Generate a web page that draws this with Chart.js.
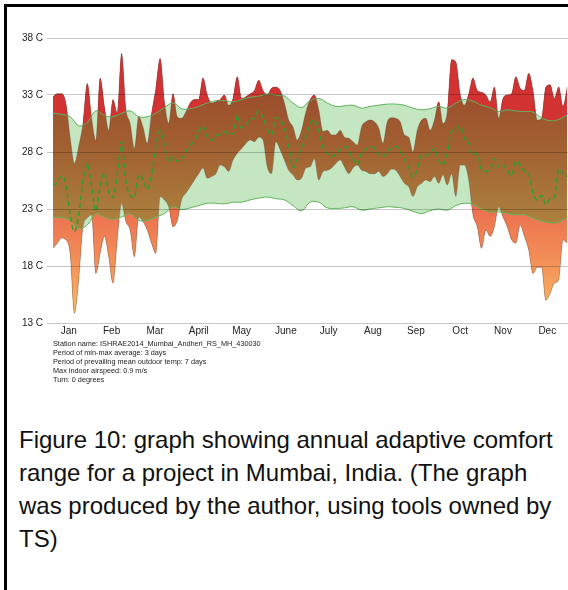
<!DOCTYPE html>
<html>
<head>
<meta charset="utf-8">
<script src="https://cdn.jsdelivr.net/npm/chart.js@4.4.1/dist/chart.umd.min.js"></script>
<style>
  html, body { margin: 0; padding: 0; background: #fff; }
  body { width: 568px; height: 590px; position: relative; overflow: hidden; font-family: "Liberation Sans", Arial, sans-serif; }
  #frame { position: absolute; left: 4px; top: 4px; right: -10px; bottom: -10px; border-left: 3px solid #000; border-top: 3px solid #000; z-index: 2; }
  #chart { position: absolute; left: 0; top: 0; }
  .info { position: absolute; left: 53px; top: 339px; font-size: 7.3px; line-height: 9px; color: #222; }
  .caption { position: absolute; left: 19px; top: 423px; width: 540px; font-size: 24px; line-height: 33px; color: #111; }
</style>
</head>
<body>
<div id="frame"></div>
<canvas id="chart" width="568" height="340"></canvas>
<div class="info">
  Station name: ISHRAE2014_Mumbai_Andheri_RS_MH_430030<br>
  Period of min-max average: 3 days<br>
  Period of prevailing mean outdoor temp: 7 days<br>
  Max indoor airspeed: 0.9 m/s<br>
  Turn: 0 degrees
</div>
<div class="caption">Figure 10: graph showing annual adaptive comfort range for a project in Mumbai, India. (The graph was produced by the author, using tools owned by TS)</div>
<script>
const months = ["Jan", "Feb", "Mar", "April", "May", "June", "July", "Aug", "Sep", "Oct", "Nov", "Dec"];
const monthDays = [11, 41, 71.5, 102, 132, 163, 193, 224, 254, 285, 315, 346];
const yTicks = [13, 18, 23, 28, 33, 38];

// outdoor temps, one value every 3 days
const tempStep = 3;
const tempMax = [
  32.85, 33.1, 33.1, 32.3, 29.3, 27.0, 28.5, 30.5, 34.0, 31.0, 29.0, 34.5, 32.0, 29.9, 32.6, 31.4, 36.65, 31.8, 30.5, 28.3, 31.1, 30.2, 28.75, 31.4, 33.6, 36.2, 32.4, 30.5, 33.1, 31.1,
  30.95, 31.5, 32.3, 32.6, 32.6, 34.5, 33.0, 32.3, 32.4, 32.6, 33.0, 32.1, 32.7, 34.6, 32.7, 32.85, 33.1, 33.4, 34.3, 33.4, 33.0, 33.6, 33.7, 33.4, 32.3, 30.8, 30.2, 29.05, 29.9, 31.5,
  32.6, 33.0, 31.7, 29.8, 29.9, 29.5, 29.5, 29.9, 29.3, 29.2, 28.9, 28.6, 30.2, 30.65, 30.8, 30.65, 30.1, 28.75, 30.65, 31.0, 30.95, 30.65, 29.5, 29.3, 28.0, 29.9, 30.8, 30.95, 29.9, 30.8,
  32.4, 30.5, 31.5, 36.1, 35.9, 33.1, 32.1, 33.1, 34.5, 33.4, 33.25, 33.0, 32.4, 33.7, 30.95, 32.7, 33.0, 33.1, 34.6, 33.6, 33.4, 34.9, 33.4, 30.8, 30.95, 33.7, 33.9, 32.7, 33.7, 32.0, 33.7
];
const tempMin = [
  19.55, 20.0, 20.45, 20.3, 19.1, 13.85, 16.8, 21.45, 22.2, 22.5, 17.35, 19.1, 20.6, 18.8, 16.5, 20.3, 23.5, 21.9, 21.15, 18.8, 22.3, 21.9, 21.15, 20.0, 19.1, 24.1, 23.8, 23.2, 21.45, 22.0,
  23.8, 24.4, 24.95, 25.55, 26.1, 26.6, 25.7, 25.85, 26.1, 26.85, 26.7, 26.3, 27.3, 27.9, 28.3, 28.75, 29.05, 28.9, 29.3, 29.05, 26.7, 26.1, 28.9, 28.2, 27.3, 26.4, 26.0, 25.55, 25.7, 26.6,
  26.7, 27.4, 25.55, 26.3, 26.4, 26.6, 27.0, 27.3, 26.7, 26.1, 26.6, 26.85, 26.4, 26.3, 26.1, 26.1, 26.3, 25.85, 26.1, 26.5, 26.4, 25.85, 25.25, 24.95, 24.1, 24.95, 25.25, 25.55, 25.4, 25.85,
  25.25, 26.0, 25.1, 26.1, 24.1, 26.85, 26.85, 25.55, 22.5, 21.45, 19.55, 21.15, 20.6, 21.45, 23.2, 22.3, 21.45, 20.3, 20.0, 21.6, 20.6, 19.4, 17.35, 17.9, 17.9, 15.0, 15.6, 16.5, 16.8, 20.3, 20.0
];
const meanTemp = [
  25.1, 25.3, 25.9, 25.2, 22.5, 21.0, 22.5, 25.5, 27.0, 25.0, 22.8, 25.0, 26.2, 24.5, 24.0, 26.0, 28.9, 25.5, 24.2, 24.0, 26.0, 25.6, 24.7, 26.0, 28.5, 29.9, 28.5, 27.1, 27.6, 27.2,
  27.4, 28.0, 28.6, 29.0, 29.8, 30.3, 29.3, 29.05, 29.4, 29.6, 29.8, 29.6, 29.6, 31.2, 30.1, 30.4, 30.9, 30.95, 31.6, 31.0, 30.0, 29.5, 31.0, 30.8, 30.1, 28.6, 26.6, 27.4, 28.4, 29.3,
  30.5, 30.8, 29.9, 28.3, 27.9, 27.6, 27.8, 28.2, 28.5, 28.1, 27.4, 26.9, 27.9, 28.2, 28.5, 28.3, 27.8, 27.6, 28.1, 28.3, 28.5, 28.1, 27.3, 26.7, 25.8, 26.5, 27.7, 27.7, 27.9, 28.3,
  27.3, 26.85, 27.9, 29.8, 29.9, 30.3, 29.2, 28.8, 27.7, 27.9, 26.4, 26.3, 26.4, 27.4, 26.7, 26.85, 26.4, 25.9, 27.2, 26.9, 26.3, 26.1, 24.4, 23.8, 24.2, 23.4, 23.9, 24.0, 26.5, 26.1, 25.85
];

// adaptive comfort band, one value every 6 days
const comfortStep = 6;
const comfortUpper = [
  31.4, 31.3, 31.1, 30.3, 30.6, 31.6, 31.2, 31.1, 31.4, 31.6, 31.1, 31.1, 31.4, 31.9, 32.3,
  31.8, 31.8, 32.0, 32.3, 32.5, 32.5, 32.4, 32.6, 32.8, 32.9, 33.1, 33.0, 32.9, 32.3, 31.9,
  32.5, 32.7, 32.3, 32.0, 32.05, 32.1, 31.85, 32.0, 32.1, 32.2, 32.2, 32.1, 31.85, 31.7, 31.8, 32.0,
  31.85, 32.3, 32.6, 32.45, 32.1, 31.9, 31.55, 31.7, 31.6, 31.55, 31.5, 31.0, 30.75, 30.85, 31.25
];
const comfortLower = [
  22.3, 22.25, 22.0, 21.3, 21.6, 22.6, 22.3, 22.1, 22.3, 22.6, 22.0, 22.0, 22.3, 22.6, 23.2,
  22.95, 23.1, 23.3, 23.5, 23.5, 23.45, 23.6, 23.6, 23.8, 23.95, 24.05, 23.9, 23.8, 23.3, 22.85,
  23.6, 23.6, 23.1, 23.05, 23.1, 23.2, 22.9, 23.0, 23.1, 23.2, 23.15, 23.05, 22.8, 22.6, 22.85, 23.0,
  22.9, 23.3, 23.5, 23.4, 23.0, 22.75, 22.75, 22.6, 22.5, 22.5, 22.2, 21.95, 21.8, 21.85, 22.3
];

function toPoints(values, step) {
  return values.map((v, i) => ({ x: i * step, y: v }));
}

// vertical gradient, stops given as [temperature, colour]
function vGradient(context, stops) {
  const chart = context.chart;
  if (!chart.chartArea) return null;
  const y = chart.scales.y;
  const top = y.getPixelForValue(38);
  const bottom = y.getPixelForValue(13);
  const g = chart.ctx.createLinearGradient(0, top, 0, bottom);
  stops.forEach(([t, c]) => g.addColorStop((38 - t) / 25, c));
  return g;
}

const green = "#5cb85c";
const edge = "rgba(90,60,60,0.45)";

const ctx = document.getElementById("chart");

new Chart(ctx, {
  type: "line",
  data: {
    datasets: [
      {
        // 0 comfort upper, fills down to lower
        data: toPoints(comfortUpper, comfortStep),
        borderColor: green,
        borderWidth: 1,
        backgroundColor: "#c4e7c2",
        fill: { target: 1 },
        tension: 0.4,
        order: 4,
      },
      {
        // 1 comfort lower
        data: toPoints(comfortLower, comfortStep),
        borderColor: green,
        borderWidth: 1,
        fill: false,
        tension: 0.4,
        order: 5,
      },
      {
        // 2 outdoor max, band down to min (part inside comfort)
        data: toPoints(tempMax, tempStep),
        borderColor: edge,
        borderWidth: 0.7,
        backgroundColor: (c) => vGradient(c, [[33, "rgb(156,78,44)"], [28, "rgb(162,98,50)"], [22, "rgb(172,128,62)"]]),
        fill: { target: 3 },
        cubicInterpolationMode: "monotone",
        order: 3,
      },
      {
        // 3 outdoor min
        data: toPoints(tempMin, tempStep),
        borderColor: edge,
        borderWidth: 0.7,
        fill: false,
        cubicInterpolationMode: "monotone",
        order: 5,
      },
      {
        // 4 max above comfort -> red
        data: toPoints(tempMax, tempStep),
        borderWidth: 0,
        fill: { target: 0, above: "rgb(210,50,50)", below: "rgba(0,0,0,0)" },
        cubicInterpolationMode: "monotone",
        order: 2,
      },
      {
        // 5 min below comfort -> orange
        data: toPoints(tempMin, tempStep),
        borderWidth: 0,
        backgroundColor: (c) => vGradient(c, [[23, "rgb(236,112,78)"], [19, "rgb(242,140,88)"], [13, "rgb(255,190,100)"]]),
        fill: { target: 1, above: "rgba(0,0,0,0)" },
        cubicInterpolationMode: "monotone",
        order: 1,
      },
      {
        // 6 mean outdoor temp, dashed
        data: toPoints(meanTemp, tempStep),
        borderColor: "#2e9e2e",
        borderWidth: 1.5,
        borderDash: [5, 3],
        fill: false,
        cubicInterpolationMode: "monotone",
        order: 0,
      },
    ],
  },
  options: {
    responsive: false,
    animation: false,
    events: [],
    layout: { padding: { left: 0, right: 0, top: 38, bottom: 0 } },
    elements: { point: { radius: 0 } },
    plugins: {
      legend: { display: false },
      tooltip: { enabled: false },
      filler: { drawTime: "beforeDatasetsDraw", propagate: false },
    },
    scales: {
      x: {
        type: "linear",
        min: 0,
        max: 360.5,
        afterBuildTicks: (scale) => {
          scale.ticks = monthDays.map((d) => ({ value: d }));
        },
        afterFit: (scale) => {
          scale.height = 17;
        },
        ticks: {
          autoSkip: false,
          maxRotation: 0,
          padding: 2,
          color: "#222",
          font: { size: 10, family: "'Liberation Sans', Arial, sans-serif" },
          callback: (v, i) => months[i],
        },
        grid: { display: false, drawTicks: false },
        border: { display: false },
      },
      y: {
        min: 13,
        max: 38,
        afterBuildTicks: (scale) => {
          scale.ticks = yTicks.map((t) => ({ value: t }));
        },
        afterFit: (scale) => {
          scale.width = 53;
        },
        ticks: {
          padding: 4,
          color: "#222",
          font: { size: 10, family: "'Liberation Sans', Arial, sans-serif" },
          callback: (v) => v + " C",
        },
        grid: { color: "rgba(0,0,0,0.22)", tickLength: 6, z: 1 },
        border: { display: false },
      },
    },
  },
});
</script>
</body>
</html>
